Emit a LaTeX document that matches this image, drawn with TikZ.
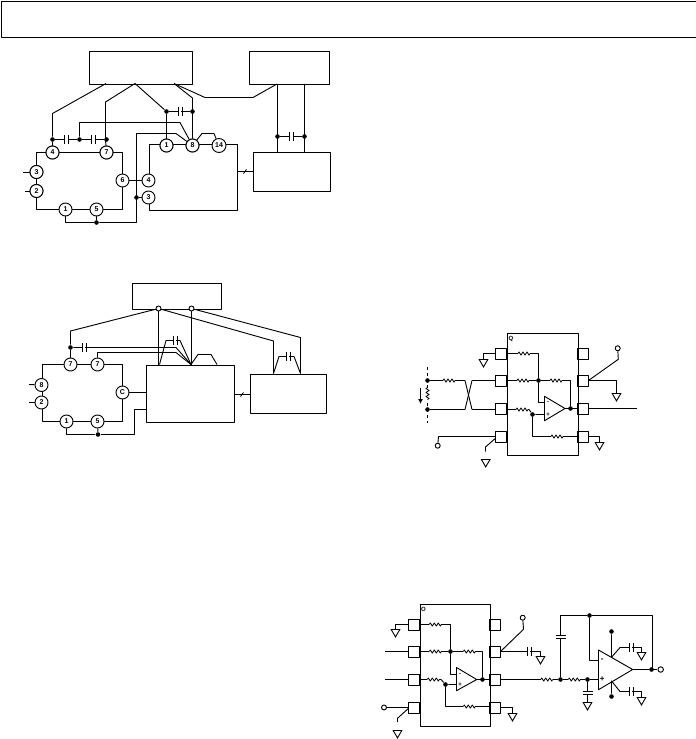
\documentclass[tikz,border=0pt]{standalone}
\usepackage{fontspec}
\usetikzlibrary{arrows.meta}
\setmainfont{Liberation Sans}
\tikzset{
  wire/.style={line width=0.92pt,line cap=butt,line join=round},
  block/.style={draw,line width=0.92pt,rectangle,inner sep=0pt,fill=white},
  pinbox/.style={draw,line width=0.92pt,rectangle,inner sep=0pt,minimum width=11pt,minimum height=11pt},
  pincirc/.style={draw,line width=0.92pt,circle,fill=white,inner sep=0pt,minimum size=13pt,font=\fontsize{7}{7}\selectfont\bfseries},
  jdot/.style={circle,fill=black,inner sep=0pt,minimum size=4.6pt},
  odot/.style={circle,draw,line width=0.92pt,fill=white,inner sep=0pt,minimum size=5pt},
  tinytext/.style={inner sep=0pt,font=\fontsize{6}{6}\selectfont\bfseries},
}
\newcommand\myresH[2]{%
  \draw[white,line width=2.4pt] (#1,#2) -- ++(12,0);
  \draw[line width=0.8pt,line join=round] (#1,#2) -- ++(1,-1.6) -- ++(2,3.2) -- ++(2,-3.2) -- ++(2,3.2) -- ++(2,-3.2) -- ++(2,3.2) -- ++(1,-1.6);}
\newcommand\myresV[2]{%
  \draw[white,line width=2.4pt] (#1,#2) -- ++(0,12);
  \draw[line width=0.8pt,line join=round] (#1,#2) -- ++(-1.6,1) -- ++(3.2,2) -- ++(-3.2,2) -- ++(3.2,2) -- ++(-3.2,2) -- ++(3.2,2) -- ++(-1.6,1);}
\newcommand\mycapH[2]{%
  \draw[white,line width=2.4pt] (#1-1.3,#2) -- (#1+1.3,#2);
  \draw[line width=0.92pt] (#1-2,#2-4.3) -- (#1-2,#2+4.3) (#1+2,#2-4.3) -- (#1+2,#2+4.3);}
\newcommand\mycapV[2]{%
  \draw[white,line width=2.4pt] (#1,#2-1) -- (#1,#2+1);
  \draw[line width=0.92pt] (#1-5,#2-1.5) -- (#1+5,#2-1.5) (#1-5,#2+1.5) -- (#1+5,#2+1.5);}
\newcommand\mygnd[2]{% apex down, top centre at #1,#2
  \draw[line width=0.92pt,line join=miter] (#1-4.3,#2) -- (#1+4.3,#2) -- (#1,#2+7.4) -- cycle;}
\newcommand\myslash[2]{\draw[line width=0.85pt] (#1-1.5,#2+2) -- (#1+1.5,#2-2);}
\begin{document}
\begin{tikzpicture}[x=1pt,y=-1pt,wire]
\useasboundingbox (0,0) rectangle (696,739);
\fill[white] (0,0) rectangle (696,739);
% header
\draw[line width=0.92pt] (696,1.5) -- (1.5,1.5) -- (1.5,37.5) -- (696,37.5);

%% ---------- diagram 1 ----------
\node[block,minimum width=103pt,minimum height=33pt,anchor=north west] (a1) at (88.5,50.5) {};
\node[block,minimum width=80pt,minimum height=33pt,anchor=north west] (a2) at (248.5,50.5) {};
\node[block,minimum width=77pt,minimum height=39pt,anchor=north west] (a3) at (252.5,151.5) {};
% rings
\draw (36.5,165) -- (36.5,152.5) -- (122.5,152.5) -- (122.5,209.5) -- (36.5,209.5) -- (36.5,197);
\draw (36.5,172) -- (36.5,191);
\draw (149.5,175) -- (149.5,144.5) -- (237.5,144.5) -- (237.5,210.5) -- (149.5,210.5) -- (149.5,203);
\coordinate (a1s1) at (106,83.5);
\coordinate (a1s2) at (135,83.5);
\coordinate (a1s3) at (174,83.5);
\node[jdot] (j1) at (52.5,139.5) {};
\node[jdot] (j2) at (79.5,139.5) {};
\node[jdot] (j3) at (106.5,139.5) {};
\node[jdot] (j4) at (166.5,111.5) {};
\node[jdot] (j5) at (192.5,111.5) {};
\node[jdot] (j6) at (277.5,136.5) {};
\node[jdot] (j7) at (304.5,136.5) {};
\node[jdot] (j8) at (136.5,197.5) {};
\node[jdot] (j9) at (96.5,222.5) {};
\node[pincirc] (c4) at (52.5,152.5) {4};
\node[pincirc] (c7) at (106.5,152.5) {7};
\node[pincirc] (c3) at (36.5,172) {3};
\node[pincirc] (c2) at (36.5,191) {2};
\node[pincirc] (c1) at (65.5,209.5) {1};
\node[pincirc] (c5) at (96.5,209.5) {5};
\node[pincirc] (c6) at (122.5,180.5) {6};
\node[pincirc] (d4) at (148.5,180.5) {4};
\node[pincirc] (d3) at (148.5,197.5) {3};
\node[pincirc] (d1) at (166.5,145.5) {1};
\node[pincirc] (d8) at (192.5,145.5) {8};
\node[pincirc,minimum size=14pt] (d14) at (219,145.5) {14};
\draw (a1s1) -- (52.5,113.5) -- (j1);
\draw (j1) -- (c4);
\draw (a1s2) -- (105.5,102) -- (105.5,140) -- (c7);
\draw (a1s2) -- (j4);
\draw (j4) -- (d1);
\draw (j4) -- (j5);
\draw (a1s3) -- (192.5,98) -- (d8);
\draw (a1s3) -- (205,97.5) -- (253,97.5) -- (277,84);
\draw (277.5,83.5) -- (277.5,151.5);
\draw (304.5,83.5) -- (304.5,151.5);
\draw (j6) -- (j7);
\draw (j1) -- (j2) -- (j3);
\draw (j2) -- (79.5,122.5) -- (180,122.5) -- (d8);
\draw (j9) -- (136.5,222.5) -- (136.5,133.5) -- (176,133.5) -- (d8);
\draw (c1) -- (65.5,222.5) -- (j9) -- (c5);
\draw (j8) -- (d3);
\draw (c6) -- (d4);
\draw (d8) -- (202,133.5) -- (214,133.5) -- (d14);
\draw (23,172) -- (c3);
\draw (25,191) -- (c2);
\draw (237.5,171.5) -- (a3.west |- 0,171.5);
\myslash{245}{171.5}
\mycapH{66.5}{139.5}\mycapH{93.5}{139.5}\mycapH{180}{111.5}\mycapH{291.5}{136.5}
% redraw pin circles that wires cross
\node[pincirc] at (c4) {4};\node[pincirc] at (c7) {7};
\node[pincirc] at (d8) {8};\node[pincirc] at (d1) {1};
\node[pincirc] at (c3) {3};\node[pincirc] at (c2) {2};

%% ---------- diagram 2 ----------
\node[block,minimum width=89pt,minimum height=26pt,anchor=north west] (b1) at (131.5,282.5) {};
\node[block,minimum width=88pt,minimum height=57pt,anchor=north west] (b2) at (145.5,364.5) {};
\node[block,minimum width=76pt,minimum height=39pt,anchor=north west] (b3) at (249.5,373.5) {};
\draw (42.5,378) -- (42.5,364.5) -- (122.5,364.5) -- (122.5,421.5) -- (42.5,421.5) -- (42.5,409);
\draw (42.5,385) -- (42.5,402);
\node[odot] (o1) at (158.5,308.5) {};
\node[odot] (o2) at (191.5,308.5) {};
\node[jdot] (k1) at (70.5,347.5) {};
\node[jdot] (k2) at (98,434.5) {};
\coordinate (t1) at (159.5,364.5);
\coordinate (t2) at (191,364.5);
\coordinate (t3) at (217,364.5);
\coordinate (u1) at (273.5,373.5);
\coordinate (u2) at (300.5,373.5);
\node[pincirc] (e7) at (70.5,364.5) {7};
\node[pincirc] (e7b) at (97.5,364.5) {7};
\node[pincirc] (e8) at (41.5,385) {8};
\node[pincirc] (e2) at (41.5,402.5) {2};
\node[pincirc] (e1) at (66.5,421.5) {1};
\node[pincirc] (e5) at (97.5,421.5) {5};
\node[pincirc] (e6) at (122.5,392.5) {C};
\draw (o1) -- (70.5,331) -- (k1);
\draw (k1) -- (e7);
\draw (k1) -- (176,347.5) -- (t2);
\draw (e7b) -- (97.5,352.5) -- (176,352.5) -- (t2);
\draw (o1) -- (158.5,364.5);
\draw (o2) -- (191.5,364.5);
\draw (t1) -- (166,340.5) -- (180,340.5) -- (t2);
\draw (t2) -- (198,354.5) -- (211,354.5) -- (t3);
\draw (o1) -- (273.5,341) -- (u1);
\draw (o2) -- (300.5,337.5) -- (u2);
\draw (u1) -- (279,356.5) -- (294,356.5) -- (u2);
\draw (e6) -- (b2.west |- e6);
\draw (e1) -- (66.5,434.5) -- (k2) -- (e5);
\draw (k2) -- (134.5,434.5) -- (134.5,409.5) -- (145.5,409.5);
\draw (29,384.5) -- (e8);
\draw (29,402.5) -- (e2);
\draw (233.5,394.5) -- (249.5,394.5);
\myslash{242}{394.5}
\mycapH{84}{347.5}\mycapH{175}{340.5}\mycapH{288}{356.5}

%% ---------- diagram 3 ----------
\node[block,fill=none,minimum width=71pt,minimum height=122pt,anchor=north west] (ic1) at (506.5,332.5) {};
\node[tinytext] (ic1m) at (511,338.5) {Q};
\foreach \n/\y in {1/353.5,2/380.5,3/408.5,4/436.5}{
  \node[pinbox] (pl\n) at (501,\y) {};
  \node[pinbox] (pr\n) at (583,\y) {};
}
\coordinate (oa1m) at (544.5,402.5);
\coordinate (oa1p) at (544.5,414.5);
\coordinate (oa1o) at (565,408.5);
\draw (544.5,396.3) -- (544.5,420.7) -- (oa1o) -- cycle;
\node[tinytext] at (548,402.5) {-};
\node[tinytext] at (548,414.5) {+};
\node[jdot] (m1) at (538.5,380.5) {};
\node[jdot] (m2) at (570.5,408.5) {};
\node[jdot] (m3) at (532.5,414.5) {};
\node[jdot] (m4) at (427.5,380.5) {};
\node[jdot] (m5) at (427.5,409.5) {};
\draw (506.5,353.5) -- (538.5,353.5) -- (m1) -- (538.5,402.5) -- (oa1m);
\draw (506.5,380.5) -- (m1) -- (570.5,380.5) -- (m2);
\draw (506.5,409.5) -- (529,409.5) -- (m3) -- (oa1p);
\draw (m3) -- (532.5,436.5) -- (577.5,436.5);
\draw (oa1o) -- (577.5,408.5);
\draw (pr3.east) -- (637,408.5);
\myresH{518}{353.5}\myresH{517}{380.5}\myresH{550}{380.5}\myresH{516}{409.5}\myresH{551}{436.5}
\draw[dashed,line width=0.85pt] (427.5,367) -- (427.5,423);
\myresV{427.5}{387.5}
\draw[-{Latex[length=5pt,width=5pt]}] (420.5,388) -- (420.5,404);
\draw (m4) -- (465,380.5);
\draw (m5) -- (465,409.5);
\draw (465,380.5) -- (472,409.5);
\draw (465,409.5) -- (472,380.5);
\draw (472,380.5) -- (pl2.west);
\draw (472,409.5) -- (495.5,409.5);
\myresH{443}{380.5}
\node[odot] (q1) at (437.7,445.7) {};
\draw (q1) -- (438.5,436.5) -- (pl4.west);
\draw (495.5,438.3) -- (485.5,447) -- (485.5,451.7);
\mygnd{485.7}{459.5}
\draw (pl1.west) -- (483.5,353.5) -- (483.5,358.5);
\mygnd{483.5}{359.5}
\node[odot] (q2) at (617.7,348.3) {};
\draw (q2) -- (618.3,359.3) -- (588.5,380.5);
\draw (pr2.east) -- (616.5,380.5) -- (616.5,392.5);
\mygnd{616.5}{393.5}
\draw (pr4.east) -- (599.5,436.5) -- (599.5,442);
\mygnd{599.5}{442.5}

%% ---------- diagram 4 ----------
\node[block,fill=none,minimum width=70pt,minimum height=122pt,anchor=north west] (ic2) at (419.5,603.5) {};
\node[tinytext] (ic2m) at (423.5,609) {O};
\foreach \n/\y in {1/624.5,2/651.5,3/679.5,4/707.5}{
  \node[pinbox] (sl\n) at (414,\y) {};
  \node[pinbox] (sr\n) at (495,\y) {};
}
\coordinate (oa2m) at (456.5,674.5);
\coordinate (oa2p) at (456.5,684.5);
\coordinate (oa2o) at (476.7,679.5);
\draw (456.5,667.5) -- (456.5,690.7) -- (oa2o) -- cycle;
\node[tinytext] at (460,674.5) {-};
\node[tinytext] at (460,684.5) {+};
\node[jdot] (n1) at (450.5,651.5) {};
\node[jdot] (n2) at (482.5,679.5) {};
\node[jdot] (n3) at (445.5,684.5) {};
\draw (419.5,624.5) -- (450.5,624.5) -- (n1) -- (450.5,674.5) -- (oa2m);
\draw (419.5,651.5) -- (n1) -- (482.5,651.5) -- (n2);
\draw (419.5,679.5) -- (441,679.5) -- (n3) -- (oa2p);
\draw (n3) -- (445.5,706.5) -- (489.5,706.5);
\draw (oa2o) -- (489.5,679.5);
\myresH{429.3}{624.5}\myresH{429.3}{651.5}\myresH{463.3}{651.5}\myresH{427.3}{679.5}\myresH{463.3}{706.5}
\draw (385,651.5) -- (sl2.west);
\draw (385,679.5) -- (sl3.west);
\node[odot] (q3) at (384,707.5) {};
\draw (q3) -- (sl4.west);
\draw (408.5,708.3) -- (397.5,718.3) -- (397.5,722);
\mygnd{397.5}{730.5}
\draw (sl1.west) -- (395.5,624.5) -- (395.5,628.5);
\mygnd{395.5}{629.5}
\node[odot] (q4) at (522.7,617.7) {};
\draw (q4) -- (523.5,629.3) -- (500.5,651.5);
\draw (sr2.east) -- (540.5,651.5) -- (540.5,656);
\mygnd{540.5}{656.5}
\mycapH{529}{651.5}
\draw (sr4.east) -- (512.5,707.5) -- (512.5,712.5);
\mygnd{512.5}{713.5}
% output filter
\node[jdot] (f1) at (560.5,679.5) {};
\node[jdot] (f2) at (587.5,679.5) {};
\node[jdot] (f3) at (589.5,615.5) {};
\node[jdot] (f4) at (651.5,669.5) {};
\node[jdot] (f5) at (611.5,631.5) {};
\node[jdot] (f6) at (611.5,696.5) {};
\node[odot,minimum size=5.5pt] (q5) at (660.7,669.5) {};
\coordinate (oa3m) at (598.5,660.5);
\coordinate (oa3p) at (598.5,679.5);
\coordinate (oa3o) at (632.7,669.5);
\draw (598.5,650) -- (598.5,689.7) -- (oa3o) -- cycle;
\node[tinytext,font=\fontsize{8}{8}\selectfont\bfseries] at (602.3,660.5) {-};
\node[tinytext,font=\fontsize{8}{8}\selectfont\bfseries] at (602.3,679.5) {+};
\draw (sr3.east) -- (f1) -- (f2) -- (oa3p);
\myresH{540.7}{679.5}\myresH{568.3}{679.5}
\draw (f1) -- (560.5,615.5) -- (f3) -- (652.5,615.5) -- (652.5,669.5) -- (f4);
\mycapV{560.5}{637}
\draw (f3) -- (589.5,660.5) -- (oa3m);
\draw (oa3o) -- (f4) -- (q5);
\draw (f5) -- (611.5,657.3) -- (620,647.5) -- (641.5,647.5) -- (641.5,652);
\mycapH{631}{647.5}
\mygnd{641.5}{652.5}
\draw (f6) -- (611.5,681) -- (620,691.5) -- (641.5,691.5) -- (641.5,697);
\mycapH{631}{691.5}
\mygnd{641.5}{697.5}
\draw (f2) -- (587.5,702);
\mycapV{587.5}{693}
\mygnd{587.5}{702.5}
\end{tikzpicture}
\end{document}
